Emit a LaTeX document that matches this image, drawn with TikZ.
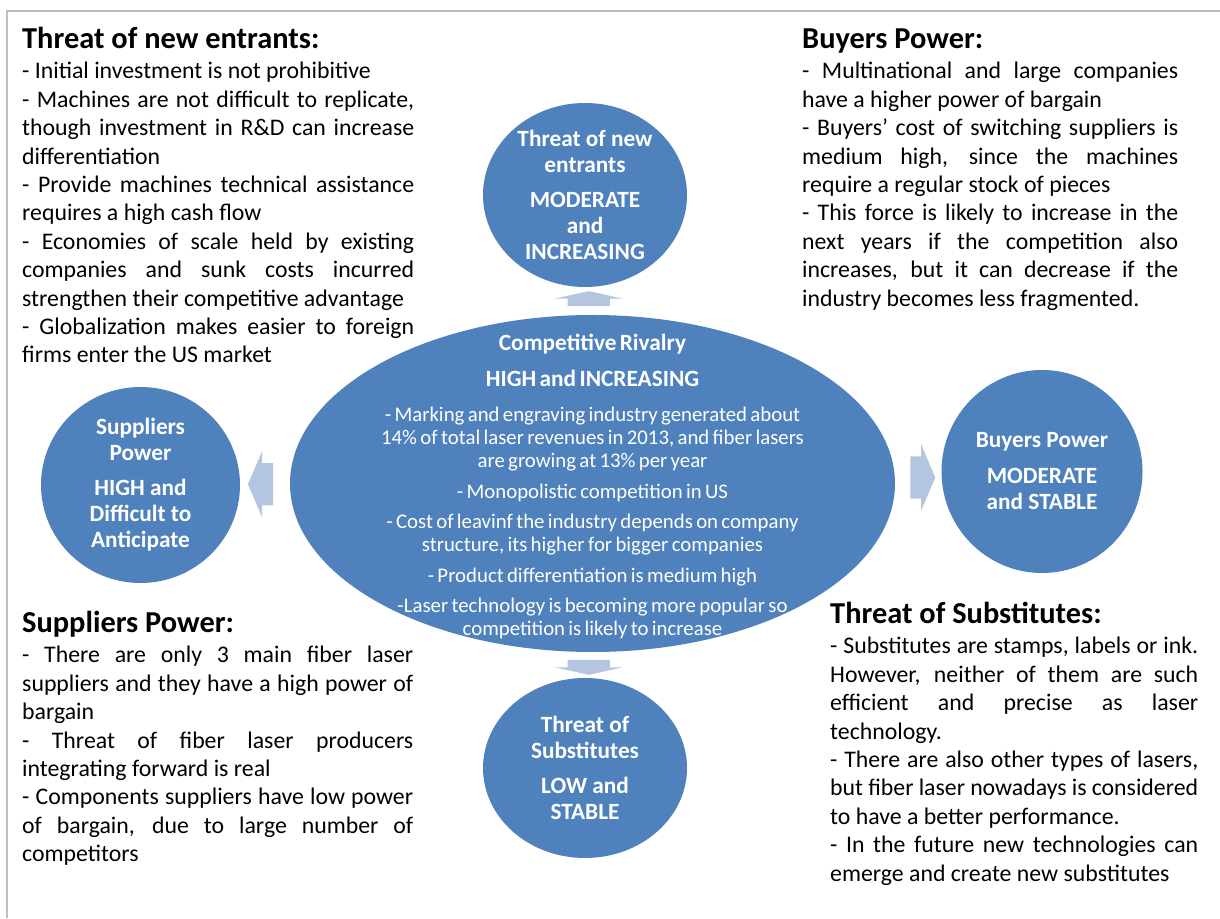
\documentclass[tikz,border=0pt]{standalone}
\usepackage{fontspec}
\setmainfont{Carlito}
\usetikzlibrary{shapes.geometric,shapes.arrows,calc}

\definecolor{forceblue}{RGB}{79,129,189}
\definecolor{arrowblue}{RGB}{180,197,224}
\definecolor{framegray}{RGB}{188,190,198}

% the hand-broken lines below may stretch as far as they need
\tolerance=10000
\hbadness=10000

\tikzset{
  force/.style={ellipse, fill=forceblue, draw=none, inner sep=0pt},
  forcetext/.style={text=white, align=center, inner sep=0pt,
    font=\fontsize{23.3}{26}\selectfont\bfseries},
  gaparrow/.style={single arrow, fill=arrowblue, draw=none,
    inner xsep=0pt, inner ysep=21pt, minimum width=66pt,
    single arrow head extend=12pt},
  notes/.style={anchor=base west, inner sep=0pt, align=justify,
    font=\fontsize{23.8}{28.4}\selectfont},
}
\newcommand{\notehead}[1]{{\fontsize{30.4}{31}\selectfont\bfseries #1\par}\vspace{1.6pt}}

\begin{document}
\begin{tikzpicture}[x=1pt,y=1pt]

\useasboundingbox (0,0) rectangle (1220,918);
\draw[framegray, line width=1.5pt] (7,0) |- (1220,907);

% the five forces
\node[force, minimum width=605pt, minimum height=337pt] (rivalry) at (592.5,434.5) {};
\node[force, minimum width=204pt, minimum height=184pt] (entry) at (585,723) {};
\node[force, minimum width=201pt, minimum height=203pt] (buyers) at (1042,446.5) {};
\node[force, minimum width=199pt, minimum height=196pt] (suppliers) at (140.5,433) {};
\node[force, minimum width=204pt, minimum height=180pt] (subst) at (585,150) {};

% arrows sit halfway between rivalry and each force
\node[gaparrow, rotate=90, minimum height=15pt, single arrow tip angle=155]
  (toentry) at ($(rivalry.north)!.5!(entry.south)$) {};
\node[gaparrow, rotate=-90, minimum height=15pt, single arrow tip angle=155]
  (tosubst) at ($(rivalry.south)!.5!(subst.north)$) {};
\node[gaparrow, minimum height=25pt, single arrow tip angle=134]
  (tobuyers) at ($(rivalry.east)!.5!(buyers.west)$) {};
\node[gaparrow, rotate=180, minimum height=25pt, single arrow tip angle=134]
  (tosuppliers) at ($(rivalry.west)!.5!(suppliers.east)$) {};

% labels inside the circles
\node[forcetext] (entrylabel) at (entry) {Threat of new\\entrants\\[9pt]MODERATE\\and\\INCREASING};
\node[forcetext] (buyerslabel) at (buyers) {Buyers Power\\[10pt]MODERATE\\and STABLE};
\node[forcetext] (supplierslabel) at (suppliers) {Suppliers\\Power\\[9pt]HIGH and\\Difficult to\\Anticipate};
\node[forcetext] (substlabel) at (subst) {Threat of\\Substitutes\\[9pt]LOW and\\STABLE};

\node[text=white, align=center, inner sep=0pt, text width=580pt, yshift=-3pt] (rivalrylabel) at (rivalry) {%
  {\fontsize{23.3}{36}\selectfont\bfseries Competitive Rivalry\\HIGH and INCREASING\par}
  \vspace{12pt}
  {\fontsize{20.8}{23}\selectfont
  - Marking and engraving industry generated about\\14\% of total laser revenues in 2013, and fiber lasers\\are growing at 13\% per year\par\vspace{7.5pt}
  - Monopolistic competition in US\par\vspace{7.5pt}
  - Cost of leavinf the industry depends on company\\structure, its higher for bigger companies\par\vspace{7.5pt}
  - Product differentiation is medium high\par\vspace{7.5pt}
  -Laser technology is becoming more popular so\\competition is likely to increase\par}};

% notes in the four corners
\node[notes, text width=392pt] (entrynotes) at (22,869) {%
  \notehead{Threat of new entrants:}
  - Initial investment is not prohibitive\par
  - Machines are not difficult to replicate,\linebreak though investment in R\&D can increase\linebreak differentiation\par
  - Provide machines technical assistance\linebreak requires a high cash flow\par
  - Economies of scale held by existing\linebreak companies and sunk costs incurred\linebreak strengthen their competitive advantage\par
  - Globalization makes easier to foreign\linebreak firms enter the US market};

\node[notes, text width=376pt] (buyersnotes) at (802,869) {%
  \notehead{Buyers Power:}
  - Multinational and large companies\linebreak have a higher power of bargain\par
  - Buyers’ cost of switching suppliers is\linebreak medium high, since the machines\linebreak require a regular stock of pieces\par
  - This force is likely to increase in the\linebreak next years if the competition also\linebreak increases, but it can decrease if the\linebreak industry becomes less fragmented.};

\node[notes, text width=391pt] (suppliersnotes) at (22,285) {%
  \notehead{Suppliers Power:}
  - There are only 3 main fiber laser\linebreak suppliers and they have a high power of\linebreak bargain\par
  - Threat of fiber laser producers\linebreak integrating forward is real\par
  - Components suppliers have low power\linebreak of bargain, due to large number of\linebreak competitors};

\node[notes, text width=368pt] (substnotes) at (830,294) {%
  \notehead{Threat of Substitutes:}
  - Substitutes are stamps, labels or ink.\linebreak However, neither of them are such\linebreak efficient and precise as laser\linebreak technology.\par
  - There are also other types of lasers,\linebreak but fiber laser nowadays is considered\linebreak to have a better performance.\par
  - In the future new technologies can\linebreak emerge and create new substitutes};

\end{tikzpicture}
\end{document}
